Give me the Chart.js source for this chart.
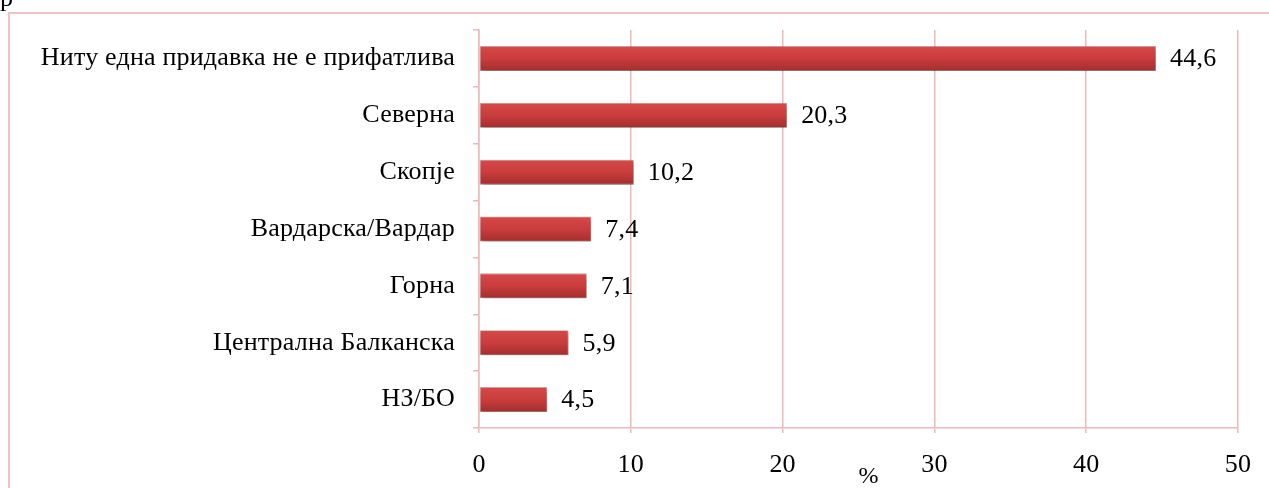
<!DOCTYPE html>
<html>
<head>
<meta charset="utf-8">
<script src="https://cdn.jsdelivr.net/npm/chart.js@4/dist/chart.umd.min.js"></script>
<style>
html,body{margin:0;padding:0;background:#fff;}
#wrap{width:1269px;height:488px;position:relative;}
</style>
</head>
<body>
<div id="wrap"><canvas id="c" width="1269" height="488"></canvas></div>
<script>
const categories = ["Ниту една придавка не е прифатлива","Северна","Скопје","Вардарска/Вардар","Горна","Централна Балканска","НЗ/БО"];
const values = [44.6, 20.3, 10.2, 7.4, 7.1, 5.9, 4.5];
const xTicks = [0, 10, 20, 30, 40, 50];
const axisTitle = "%";
const cutText = "р";

const FONT = "'Liberation Serif', 'Times New Roman', serif";
const FSIZE = 26;
const LSP = '0.2px';
const PINK = "#eab9b9";
const BAR_PCT = 0.44;

const framePlugin = {
  id: 'frame',
  beforeDraw(chart) {
    const ctx = chart.ctx;
    ctx.save();
    ctx.fillStyle = '#fff';
    ctx.fillRect(0, 0, chart.width, chart.height);
    ctx.strokeStyle = '#f0c4c4';
    ctx.lineWidth = 2;
    ctx.strokeRect(9, 13, 1400, 600);
    ctx.fillStyle = '#000';
    ctx.font = FSIZE + "px " + FONT;
    ctx.textBaseline = 'alphabetic';
    ctx.fillText(cutText, 0, 6);
    ctx.restore();
    if ('letterSpacing' in ctx) ctx.letterSpacing = LSP;
  },
  beforeDatasetsDraw(chart) {
    const ctx = chart.ctx;
    ctx.save();
    ctx.shadowColor = 'rgba(0,0,0,0.35)';
    ctx.shadowBlur = 4;
    ctx.shadowOffsetX = 1;
    ctx.shadowOffsetY = 3;
  },
  afterDatasetsDraw(chart) {
    const ctx = chart.ctx;
    ctx.restore();
    ctx.save();
    if ('letterSpacing' in ctx) ctx.letterSpacing = LSP;
    ctx.fillStyle = '#000';
    ctx.font = FSIZE + "px " + FONT;
    ctx.textBaseline = 'middle';
    ctx.textAlign = 'left';
    const meta = chart.getDatasetMeta(0);
    meta.data.forEach((bar, i) => {
      const txt = values[i].toFixed(1).replace('.', ',');
      ctx.fillText(txt, bar.x + 14, bar.y + 1);
    });
    const xs = chart.scales.x;
    ctx.textAlign = 'center';
    ctx.font = "24px " + FONT;
    ctx.fillText(axisTitle, xs.getPixelForValue(25) + 10, 477);
    ctx.restore();
  }
};

new Chart(document.getElementById('c'), {
  type: 'bar',
  data: {
    labels: categories,
    datasets: [{
      data: values,
      backgroundColor(context) {
        const chart = context.chart;
        const ys = chart.scales && chart.scales.y;
        if (!ys || !chart.chartArea) return '#c53a3a';
        const cy = ys.getPixelForValue(context.dataIndex);
        const step = (chart.chartArea.bottom - chart.chartArea.top) / categories.length;
        const h = step * BAR_PCT;
        const top = cy - h / 2;
        if (!isFinite(top) || !isFinite(h)) return '#c53a3a';
        const g = chart.ctx.createLinearGradient(0, top, 0, top + h);
        g.addColorStop(0, '#d84848');
        g.addColorStop(0.5, '#c93d3d');
        g.addColorStop(1, '#a42d2d');
        return g;
      },
      borderColor: 'rgba(150,110,110,0.6)',
      borderWidth: 0.8,
      borderSkipped: false,
      barPercentage: BAR_PCT,
      categoryPercentage: 1.0
    }]
  },
  options: {
    indexAxis: 'y',
    responsive: false,
    animation: false,
    devicePixelRatio: 1,
    layout: { padding: { left: 0, right: 31, top: 30, bottom: 0 } },
    plugins: { legend: { display: false }, tooltip: { enabled: false } },
    scales: {
      x: {
        min: 0, max: 50,
        afterBuildTicks(scale) { scale.ticks = xTicks.map(v => ({ value: v })); },
        afterFit(scale) { scale.height = 60; scale.paddingLeft = 0; scale.paddingRight = 0; },
        grid: { color: PINK, lineWidth: 1.5, tickLength: 5, drawTicks: true },
        border: { color: PINK, width: 1.5 },
        ticks: { color: '#000', font: { family: FONT, size: FSIZE }, padding: 17 }
      },
      y: {
        afterFit(scale) { scale.width = 479; scale.paddingTop = 0; scale.paddingBottom = 0; },
        grid: { drawOnChartArea: false, color: PINK, lineWidth: 1.5, tickLength: 6, offset: true },
        border: { color: PINK, width: 1.5 },
        ticks: { color: '#000', font: { family: FONT, size: FSIZE }, padding: 18 }
      }
    }
  },
  plugins: [framePlugin]
});
</script>
</body>
</html>
